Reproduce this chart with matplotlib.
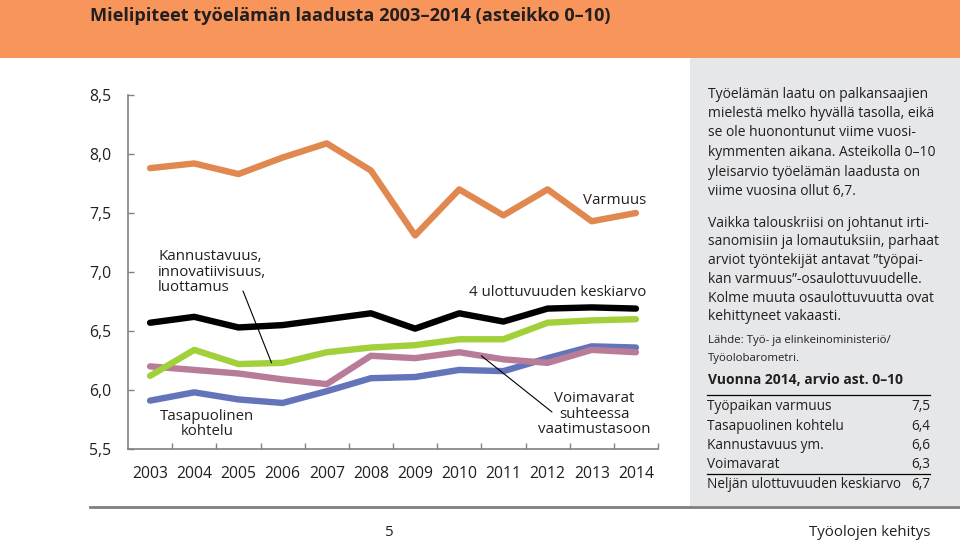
import matplotlib
matplotlib.use("Agg")
import matplotlib.pyplot as plt
from matplotlib.patches import Rectangle
from matplotlib.lines import Line2D

plt.rcParams['font.family'] = ['Open Sans', 'DejaVu Sans']

# ---------------- data ----------------
years = ['2003', '2004', '2005', '2006', '2007', '2008', '2009', '2010', '2011', '2012', '2013', '2014']
varmuus = [7.88, 7.92, 7.83, 7.97, 8.09, 7.86, 7.31, 7.70, 7.48, 7.70, 7.43, 7.50]
keskiarvo = [6.57, 6.62, 6.53, 6.55, 6.60, 6.65, 6.52, 6.65, 6.58, 6.69, 6.70, 6.69]
kannustavuus = [6.12, 6.34, 6.22, 6.23, 6.32, 6.36, 6.38, 6.43, 6.43, 6.57, 6.59, 6.60]
voimavarat = [6.20, 6.17, 6.14, 6.09, 6.05, 6.29, 6.27, 6.32, 6.26, 6.23, 6.34, 6.32]
tasapuolinen = [5.91, 5.98, 5.92, 5.89, 5.99, 6.10, 6.11, 6.17, 6.16, 6.27, 6.37, 6.36]
yticks = [5.5, 6.0, 6.5, 7.0, 7.5, 8.0, 8.5]
ytick_labels = ['5,5', '6,0', '6,5', '7,0', '7,5', '8,0', '8,5']

table_labels = ['Työpaikan varmuus', 'Tasapuolinen kohtelu', 'Kannustavuus ym.',
                'Voimavarat', 'Neljän ulottuvuuden keskiarvo']
table_values = ['7,5', '6,4', '6,6', '6,3', '6,7']

W, H = 960, 545
def fx(x):
    return x / W
def fy(y):
    return 1 - y / H

TXT = '#231F20'
fig = plt.figure(figsize=(W / 100, H / 100), dpi=100)
fig.patch.set_facecolor('white')

# header band and side panel
fig.patches.append(Rectangle((0, fy(58)), 1, 58 / H, transform=fig.transFigure,
                             facecolor='#F7955A', edgecolor='none', zorder=0))
fig.patches.append(Rectangle((fx(690), fy(506)), 1 - fx(690), (506 - 58) / H,
                             transform=fig.transFigure, facecolor='#E6E7E8',
                             edgecolor='none', zorder=0))
fig.text(fx(90), fy(16), 'Mielipiteet työelämän laadusta 2003–2014 (asteikko 0–10)',
         fontsize=13.1, fontweight='bold', color=TXT, va='center', ha='left')

# ---------------- chart ----------------
ax = fig.add_axes([fx(128), fy(449), (658 - 128) / W, (449 - 95) / H])
x = list(range(len(years)))
lw = 4.6
ax.plot(x, varmuus, color='#E0884F', lw=lw, solid_capstyle='round', zorder=3)
ax.plot(x, tasapuolinen, color='#6474BB', lw=lw, solid_capstyle='round', zorder=3)
ax.plot(x, voimavarat, color='#B87C98', lw=lw, solid_capstyle='round', zorder=3)
ax.plot(x, kannustavuus, color='#A2D03B', lw=lw, solid_capstyle='round', zorder=3)
ax.plot(x, keskiarvo, color='#000000', lw=lw, solid_capstyle='round', zorder=3)

ax.set_xlim(-0.5, len(years) - 0.5)
ax.set_ylim(5.5, 8.5)
for s in ['top', 'right']:
    ax.spines[s].set_visible(False)
for s in ['left', 'bottom']:
    ax.spines[s].set_color('#808080')
    ax.spines[s].set_linewidth(1.2)
ax.set_yticks(yticks)
ax.set_yticklabels(ytick_labels)
ax.set_xticks([i + 0.5 for i in range(len(years))])
ax.set_xticklabels([])
ax.set_xticks(x, minor=True)
ax.set_xticklabels(years, minor=True)
ax.tick_params(axis='y', direction='in', length=4, width=1.0, color='#808080',
               labelsize=11.3, labelcolor=TXT, pad=12)
ax.tick_params(axis='x', which='major', direction='in', length=4, width=1.0, color='#808080')
ax.tick_params(axis='x', which='minor', length=0, labelsize=11.3, labelcolor=TXT, pad=12)
ax.set_facecolor('none')

fs = 10.8
fig.text(fx(158), fy(272), 'Kannustavuus,\ninnovatiivisuus,\nluottamus', fontsize=fs,
         color=TXT, ha='left', va='center', linespacing=1.02)
ax.annotate('', xy=(2.75, kannustavuus[3]), xycoords='data',
            xytext=(fx(243), fy(291)), textcoords='figure fraction',
            arrowprops=dict(arrowstyle='-', color='black', lw=0.8, shrinkA=0, shrinkB=0))
fig.text(fx(646), fy(200), 'Varmuus', fontsize=fs, color=TXT, ha='right', va='center')
fig.text(fx(646), fy(293), '4 ulottuvuuden keskiarvo', fontsize=fs, color=TXT,
         ha='right', va='center')
fig.text(fx(207), fy(424), 'Tasapuolinen\nkohtelu', fontsize=fs, color=TXT,
         ha='center', va='center', linespacing=1.02)
fig.text(fx(594), fy(414), 'Voimavarat\nsuhteessa\nvaatimustasoon', fontsize=fs,
         color=TXT, ha='center', va='center', linespacing=1.02)
ax.annotate('', xy=(7.5, (voimavarat[7] + voimavarat[8]) / 2), xycoords='data',
            xytext=(fx(552), fy(412)), textcoords='figure fraction',
            arrowprops=dict(arrowstyle='-', color='black', lw=0.8, shrinkA=0, shrinkB=0))

# ---------------- side panel text ----------------
pfs = 10.0
para1 = ['Työelämän laatu on palkansaajien', 'mielestä melko hyvällä tasolla, eikä',
         'se ole huonontunut viime vuosi-', 'kymmenten aikana. Asteikolla 0–10',
         'yleisarvio työelämän laadusta on', 'viime vuosina ollut 6,7.']
para2 = ['Vaikka talouskriisi on johtanut irti-', 'sanomisiin ja lomautuksiin, parhaat',
         'arviot työntekijät antavat ”työpai-', 'kan varmuus”-osaulottuvuudelle.',
         'Kolme muuta osaulottuvuutta ovat', 'kehittyneet vakaasti.']
for i, t in enumerate(para1):
    fig.text(fx(708), fy(94 + i * 19.5), t, fontsize=pfs, color=TXT, va='center')
for i, t in enumerate(para2):
    fig.text(fx(708), fy(223 + i * 18.8), t, fontsize=pfs, color=TXT, va='center')
fig.text(fx(708), fy(340), 'Lähde: Työ- ja elinkeinoministeriö/', fontsize=8.2, color=TXT, va='center')
fig.text(fx(708), fy(358), 'Työolobarometri.', fontsize=8.2, color=TXT, va='center')
fig.text(fx(708), fy(380), 'Vuonna 2014, arvio ast. 0–10', fontsize=10, fontweight='bold',
         color=TXT, va='center')
fig.lines.append(Line2D([fx(707), fx(930)], [fy(395), fy(395)], transform=fig.transFigure,
                        color='black', lw=0.9))
tfs = 9.8
for i, (lab, val) in enumerate(zip(table_labels, table_values)):
    yy = 407 + i * 19.3
    fig.text(fx(707), fy(yy), lab, fontsize=tfs, color=TXT, va='center')
    fig.text(fx(930), fy(yy), val, fontsize=tfs, color=TXT, va='center', ha='right')
fig.lines.append(Line2D([fx(707), fx(930)], [fy(474), fy(474)], transform=fig.transFigure,
                        color='black', lw=0.9))

# ---------------- footer ----------------
fig.lines.append(Line2D([fx(90), 1], [fy(507), fy(507)], transform=fig.transFigure,
                        color='#7F7F7F', lw=2.0))
fig.text(fx(389), fy(532), '5', fontsize=10.8, color=TXT, ha='center', va='center')
fig.text(fx(930), fy(532), 'Työolojen kehitys', fontsize=10.8, color=TXT, ha='right', va='center')

fig.savefig('out.png', dpi=100)
